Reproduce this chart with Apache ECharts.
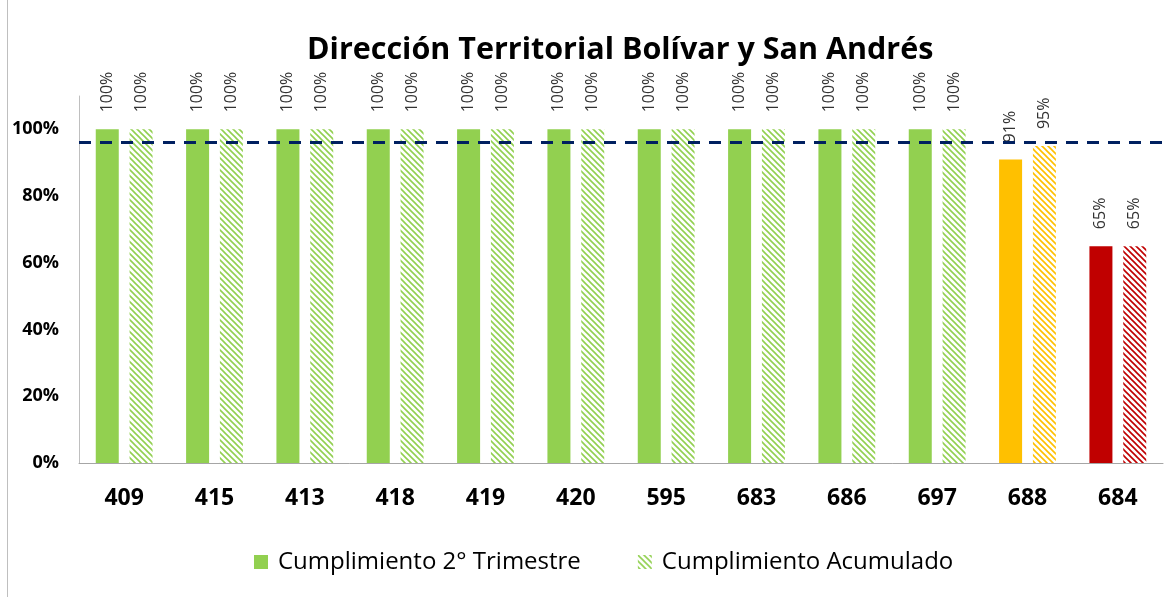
<!DOCTYPE html>
<html>

<head>
  <meta charset="utf-8" />
  <title></title>
  <script src="https://cdn.jsdelivr.net/npm/echarts@6/dist/echarts.min.js"></script>
  <style>
    body { margin: 0; background: #fff; }
    #main { position: absolute; left: 7px; top: -1px; width: 1164px; height: 597px; border: 1px solid #bfbfbf; }
  </style>
</head>

<body>
  <div id="main"></div>
  <script type="text/javascript">
    var categories = ['409', '415', '413', '418', '419', '420', '595', '683', '686', '697', '688', '684'];
    var trimestre = [1, 1, 1, 1, 1, 1, 1, 1, 1, 1, 0.91, 0.65];
    var acumulado = [1, 1, 1, 1, 1, 1, 1, 1, 1, 1, 0.95, 0.65];
    var meta = 0.96;
    var barColors = ['#92D050', '#92D050', '#92D050', '#92D050', '#92D050', '#92D050',
      '#92D050', '#92D050', '#92D050', '#92D050', '#FFC000', '#C00000'];

    var font = 'Open Sans';

    var hatch = function (color) {
      var c = document.createElement('canvas');
      c.width = 6; c.height = 6;
      var ctx = c.getContext('2d');
      ctx.strokeStyle = color;
      ctx.lineWidth = 1.6;
      ctx.beginPath();
      ctx.moveTo(-1, -1); ctx.lineTo(7, 7);
      ctx.moveTo(-1, 5); ctx.lineTo(1, 7);
      ctx.moveTo(5, -1); ctx.lineTo(7, 1);
      ctx.stroke();
      return { image: c, repeat: 'repeat' };
    };

    var pct = function (v) { return Math.round(v * 100) + '%'; };

    var labelOpt = {
      show: true,
      position: 'top',
      rotate: 90,
      align: 'left',
      verticalAlign: 'middle',
      distance: 17,
      fontSize: 16,
      fontFamily: font,
      color: '#333',
      formatter: function (p) { return pct(p.value); }
    };

    var chart = echarts.init(document.getElementById('main'));
    var option = {
      animation: false,
      title: {
        text: 'Dirección Territorial Bolívar y San Andrés',
        left: 294,
        top: 30,
        textStyle: { fontSize: 30.5, fontWeight: 'bold', fontFamily: font, color: '#000' }
      },
      legend: {
        bottom: 18,
        left: 241,
        icon: 'rect',
        itemWidth: 14,
        itemHeight: 14,
        itemGap: 57,
        textStyle: { fontSize: 24, fontFamily: font, color: '#000', padding: [0, 0, 0, 5] },
        data: ['Cumplimiento 2° Trimestre', 'Cumplimiento Acumulado']
      },
      grid: { left: 71, right: 9, top: 96, bottom: 134 },
      xAxis: {
        type: 'category',
        data: categories,
        axisLine: { lineStyle: { color: '#a6a6a6' } },
        axisTick: { show: false },
        axisLabel: { fontSize: 23, fontWeight: 'bold', fontFamily: font, color: '#000', margin: 24 }
      },
      yAxis: {
        type: 'value',
        min: 0,
        max: 1.1,
        interval: 0.2,
        splitLine: { show: false },
        axisLine: { show: true, lineStyle: { color: '#bfbfbf' } },
        axisTick: { show: false },
        axisLabel: {
          showMaxLabel: false,
          fontSize: 18, fontWeight: 'bold', fontFamily: font, color: '#000', margin: 20,
          formatter: pct
        }
      },
      series: [
        {
          name: 'Cumplimiento 2° Trimestre',
          type: 'bar',
          barWidth: 23,
          barGap: '47%',
          itemStyle: { color: '#92D050' },
          label: labelOpt,
          data: trimestre.map(function (v, i) {
            return { value: v, itemStyle: { color: barColors[i] } };
          }),
          markLine: {
            silent: true,
            symbol: 'none',
            label: { show: false },
            lineStyle: { color: '#002060', width: 3, type: [12, 9] },
            data: [{ yAxis: meta }]
          }
        },
        {
          name: 'Cumplimiento Acumulado',
          type: 'bar',
          barWidth: 23,
          barGap: '47%',
          itemStyle: { color: hatch('#92D050') },
          label: labelOpt,
          data: acumulado.map(function (v, i) {
            return { value: v, itemStyle: { color: hatch(barColors[i]) } };
          })
        }
      ]
    };
    chart.setOption(option);

    window.onresize = function () {
      chart.resize();
    };
  </script>
</body>

</html>
